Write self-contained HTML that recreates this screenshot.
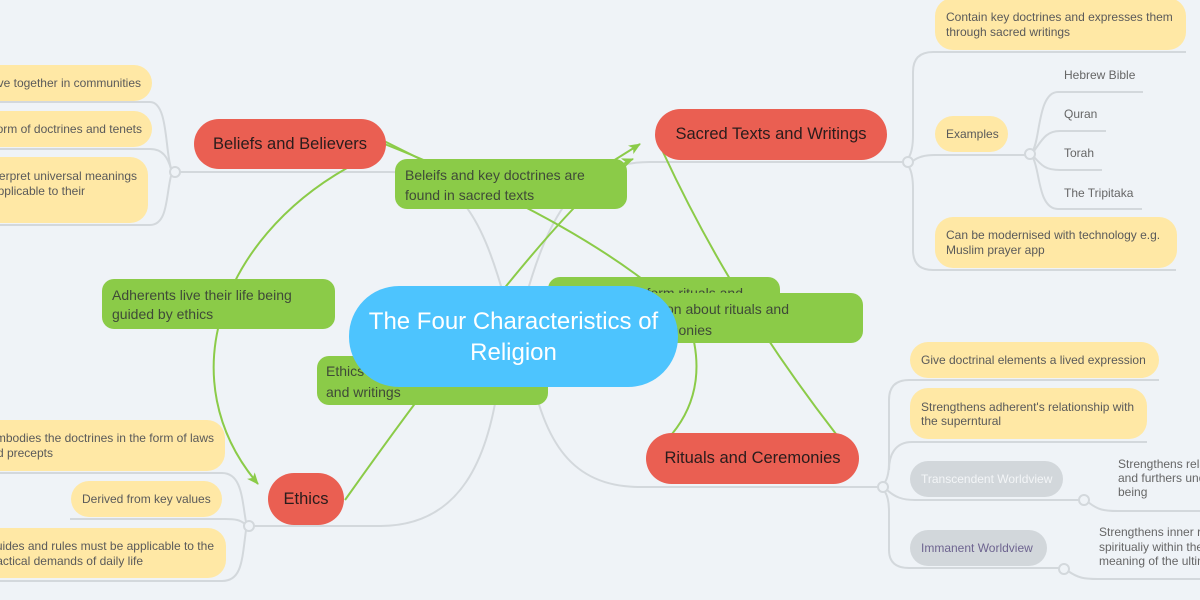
<!DOCTYPE html>
<html><head><meta charset="utf-8">
<style>
*{margin:0;padding:0;box-sizing:border-box}
html,body{width:1200px;height:600px;overflow:hidden;background:#eff3f7;font-family:"Liberation Sans",sans-serif}
#wrap{position:absolute;left:0;top:0;width:1200px;height:600px;overflow:hidden}
.y{position:absolute;background:#ffe8a5;border-radius:18px}
.gb{position:absolute;background:#d2d7db;border-radius:18px}
.g{position:absolute;background:#8bcb48;border-radius:12px}
.r{position:absolute;background:#ea5f52;display:flex;align-items:center;justify-content:center;color:#2a1c1c;font-size:16.5px;white-space:nowrap}
.t{position:absolute;white-space:nowrap;font-size:12px;line-height:16px;color:#5a5a5a}
.s{position:absolute;white-space:nowrap;font-size:12px;line-height:16px;color:#666}
.gt{position:absolute;white-space:nowrap;font-size:14px;line-height:16px;color:#3f4a38}
svg{position:absolute;left:0;top:0}
</style></head><body>
<div id="wrap">
<svg width="1200" height="600" viewBox="0 0 1200 600">
<defs>
<marker id="ah" markerWidth="12" markerHeight="10" refX="11" refY="5" orient="auto" markerUnits="userSpaceOnUse"><path d="M0,0 L12,5 L0,10 L3,5 z" fill="#8bcb48"/></marker>
</defs>
<g fill="none" stroke="#d3d8dc" stroke-width="2">
<path d="M505 300 C480 210,455 172,390 172 L180 172"/>
<path d="M525 300 C550 210,580 162,650 162 L903 162"/>
<path d="M530 370 C545 440,570 487,640 487 L878 487"/>
<path d="M500 370 C490 460,460 526,380 526 L254 526"/>
<path d="M171 168 C165 150,168 102,150 102 L-5 102"/>
<path d="M171 169 C168 158,163 149,150 149 L-5 149"/>
<path d="M171 176 C166 195,168 225,150 225 L-5 225"/>
<path d="M246 522 C242 500,242 473,222 473 L-5 473"/>
<path d="M245 524 C240 520,236 519,225 519 L70 519"/>
<path d="M246 530 C242 560,242 581,222 581 L-5 581"/>
<path d="M909 157 Q913 150 913 135 L913 72 Q913 52 933 52 L1186 52"/>
<path d="M913 161 Q920 155 935 155 L1025 155"/>
<path d="M909 167 Q913 174 913 189 L913 250 Q913 270 933 270 L1176 270"/>
<path d="M1033 150 C1040 140,1038 92,1058 92 L1143 92"/>
<path d="M1034 151 C1042 140,1046 131,1060 131 L1106 131"/>
<path d="M1034 157 C1042 166,1046 170,1060 170 L1102 170"/>
<path d="M1033 158 C1040 170,1038 209,1058 209 L1142 209"/>
<path d="M885 482 Q889 476 889 462 L889 400 Q889 380 909 380 L1159 380"/>
<path d="M889 470 C889 455,895 442,912 442 L1147 442"/>
<path d="M887 490 C895 497,902 500,915 500 L1080 500"/>
<path d="M885 492 Q889 498 889 512 L889 550 Q889 568 909 568 L1060 568"/>
<path d="M1088 502 C1098 510,1104 511,1118 511 L1200 511"/>
<path d="M1068 571 C1078 578,1084 579,1098 579 L1200 579"/>
</g>
<g fill="#eff3f7" stroke="#d3d8dc" stroke-width="2">
<circle cx="175" cy="172" r="5"/>
<circle cx="249" cy="526" r="5"/>
<circle cx="908" cy="162" r="5"/>
<circle cx="1030" cy="154" r="5"/>
<circle cx="883" cy="487" r="5"/>
<circle cx="1084" cy="500" r="5"/>
<circle cx="1064" cy="569" r="5"/>
</g>
<g fill="none" stroke="#8bcb48" stroke-width="2">
<path d="M382 140 L432 165"/>
<path d="M605 166 L640 144" marker-end="url(#ah)"/>
<path d="M345 500 C430 380,580 180,633 159" marker-end="url(#ah)"/>
<path d="M382 143 C440 166,560 215,650 285"/>
<path d="M688 320 C702 360,700 400,672 434"/>
<path d="M663 152 C690 210,740 310,836 434"/>
<path d="M347 168 C220 240,170 380,258 484" marker-end="url(#ah)"/>
</g>
</svg>

<div class="y" style="left:-100px;top:65px;width:252px;height:36px"><div class="t" style="right:11px;top:10px">Believers live together in communities</div></div>
<div class="y" style="left:-100px;top:111px;width:252px;height:36px"><div class="t" style="right:10px;top:10px">Beliefs take the form of doctrines and tenets</div></div>
<div class="y" style="left:-100px;top:157px;width:248px;height:66px"><div class="t" style="right:11px;top:11px">Believers interpret universal meanings</div><div class="t" style="right:63px;top:26px">and make them applicable to their</div></div>

<div class="y" style="left:-100px;top:420px;width:325px;height:51px"><div class="t" style="right:11px;top:10px">Ethics embodies the doctrines in the form of laws</div><div class="t" style="right:172px;top:25px">and precepts</div></div>
<div class="y" style="left:71px;top:481px;width:151px;height:36px"><div class="t" style="left:11px;top:10px">Derived from key values</div></div>
<div class="y" style="left:-100px;top:528px;width:326px;height:50px"><div class="t" style="right:12px;top:10px">Ethical guides and rules must be applicable to the</div><div class="t" style="right:83px;top:25px">practical demands of daily life</div></div>

<div class="y" style="left:935px;top:-2px;width:251px;height:52px"><div class="t" style="left:11px;top:11px">Contain key doctrines and expresses them</div><div class="t" style="left:11px;top:26px">through sacred writings</div></div>
<div class="y" style="left:935px;top:116px;width:73px;height:36px"><div class="t" style="left:11px;top:10px">Examples</div></div>
<div class="y" style="left:935px;top:217px;width:242px;height:51px"><div class="t" style="left:11px;top:10px">Can be modernised with technology e.g.</div><div class="t" style="left:11px;top:25px">Muslim prayer app</div></div>
<div class="s" style="left:1064px;top:67px">Hebrew Bible</div>
<div class="s" style="left:1064px;top:106px">Quran</div>
<div class="s" style="left:1064px;top:145px">Torah</div>
<div class="s" style="left:1064px;top:185px">The Tripitaka</div>

<div class="y" style="left:910px;top:342px;width:249px;height:36px"><div class="t" style="left:11px;top:10px">Give doctrinal elements a lived expression</div></div>
<div class="y" style="left:910px;top:388px;width:237px;height:51px"><div class="t" style="left:11px;top:11px">Strengthens adherent's relationship with</div><div class="t" style="left:11px;top:25px">the superntural</div></div>
<div class="gb" style="left:910px;top:461px;width:153px;height:36px"><div class="t" style="left:11px;top:10px;color:#f3f5f7">Transcendent Worldview</div></div>
<div class="gb" style="left:910px;top:530px;width:137px;height:36px"><div class="t" style="left:11px;top:10px;color:#6e6490">Immanent Worldview</div></div>
<div class="s" style="left:1118px;top:457px;line-height:14px">Strengthens relationship with God<br>and furthers understanding of the Supreme<br>being</div>
<div class="s" style="left:1099px;top:525px;line-height:14.5px">Strengthens inner reflection and<br>spiritualiy within the individual and the<br>meaning of the ultimate</div>

<div class="g" style="left:102px;top:279px;width:233px;height:50px"><div class="gt" style="left:10px;top:8px">Adherents live their life being</div><div class="gt" style="left:10px;top:27px">guided by ethics</div></div>
<div class="g" style="left:395px;top:159px;width:232px;height:50px"><div class="gt" style="left:10px;top:8px">Beleifs and key doctrines are</div><div class="gt" style="left:10px;top:28px">found in sacred texts</div></div>
<div class="g" style="left:317px;top:356px;width:231px;height:49px"><div class="gt" style="left:9px;top:7px">Ethics are found in sacred texts</div><div class="gt" style="left:9px;top:28px">and writings</div></div>
<div class="g" style="left:548px;top:277px;width:232px;height:50px"><div class="gt" style="right:37px;top:8px">Believers perform rituals and</div></div>
<div class="g" style="left:560px;top:293px;width:303px;height:50px"><div class="gt" style="right:74px;top:8px">Sacred texts give information about rituals and</div><div class="gt" style="right:151px;top:29px">ceremonies</div></div>

<div class="r" style="left:194px;top:119px;width:192px;height:50px;border-radius:25px">Beliefs and Believers</div>
<div class="r" style="left:655px;top:109px;width:232px;height:51px;border-radius:25.5px">Sacred Texts and Writings</div>
<div class="r" style="left:646px;top:433px;width:213px;height:51px;border-radius:25.5px">Rituals and Ceremonies</div>
<div class="r" style="left:268px;top:473px;width:76px;height:52px;border-radius:26px">Ethics</div>

<div style="position:absolute;left:349px;top:286px;width:329px;height:101px;border-radius:50px;background:#4dc4fe;color:#fff;font-size:24px;line-height:31px;text-align:center;display:flex;align-items:center;justify-content:center">The Four Characteristics of<br>Religion</div>
</div>
</body></html>
